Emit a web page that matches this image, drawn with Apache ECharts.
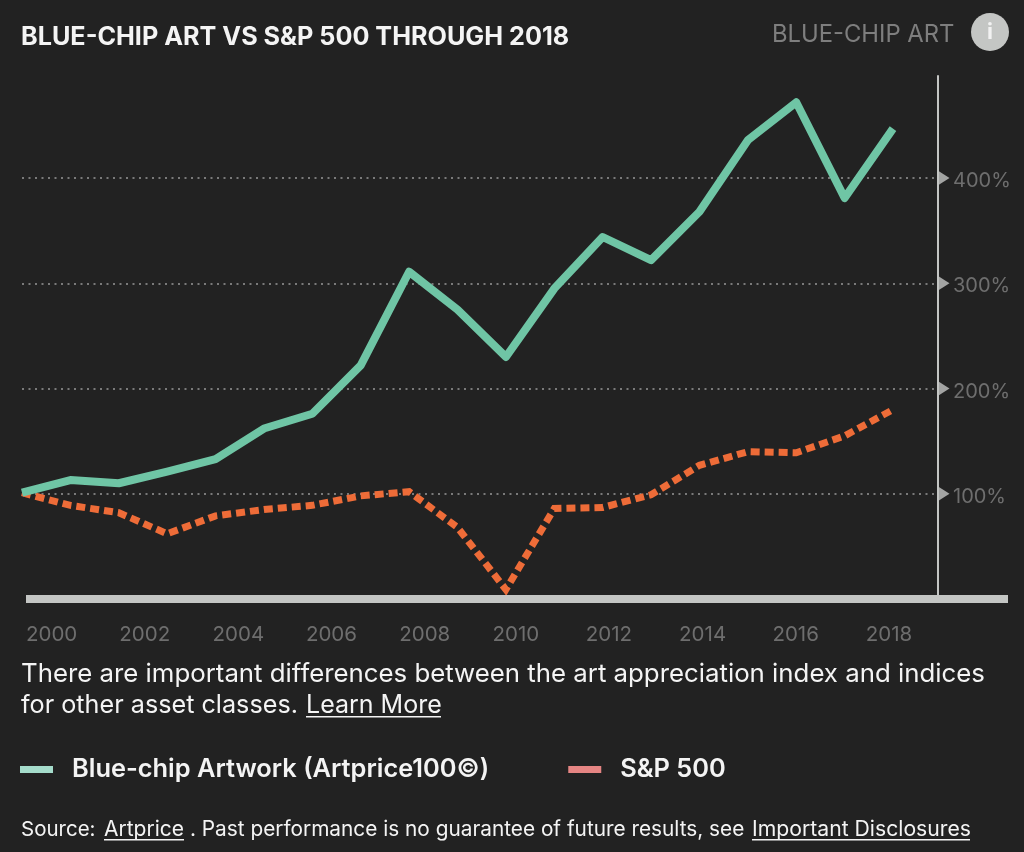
<!DOCTYPE html>
<html>
<head>
<meta charset="utf-8">
<title>Blue-chip art vs S&P 500</title>
<script src="https://cdn.jsdelivr.net/npm/echarts@6/dist/echarts.min.js"></script>
<style>
  html, body { margin: 0; padding: 0; background: #222222; }
  #chart { width: 1024px; height: 852px; }
</style>
</head>
<body>
<div id="chart"></div>
<script>
// data
const years = [2000, 2001, 2002, 2003, 2004, 2005, 2006, 2007, 2008, 2009, 2010, 2011, 2012, 2013, 2014, 2015, 2016, 2017, 2018];
const artValues = [101, 113, 110, 121, 133, 162, 176, 222, 311, 275, 230, 295, 344, 322, 368, 436, 472, 381, 447];
const spxValues = [101, 89, 82, 62, 79, 85, 89, 98, 102, 68, 9, 86, 87, 99, 127, 140, 139, 155, 180];
const yearLabels = [2000, 2002, 2004, 2006, 2008, 2010, 2012, 2014, 2016, 2018];
const percentTicks = [100, 200, 300, 400];
const artName = 'Blue-chip Artwork (Artprice100©)';
const spxName = 'S&P 500';

const FONT = 'Inter, "Noto Sans", sans-serif';
const MINT = '#6fc5a5';
const ORANGE = '#ee6c38';
const LIGHT = '#c4c6c4';
const WHITE = '#f4f4f4';

const xEnd = 2018.93;

// text and its underline
function label(x, y, text, fontSize, color, fontWeight) {
  return {
    type: 'text', x: x, y: y,
    style: { text: text, fontFamily: FONT, fontSize: fontSize, fill: color, fontWeight: fontWeight || 400, verticalAlign: 'middle' }
  };
}
function underline(x1, x2, y) {
  return { type: 'rect', shape: { x: x1, y: y, width: x2 - x1, height: 1.5 }, style: { fill: WHITE } };
}

const chart = echarts.init(document.getElementById('chart'));
chart.setOption({
  animation: false,
  backgroundColor: '#222222',
  textStyle: { fontFamily: FONT },
  grid: [
    { left: 22, top: 76, width: 916, height: 523 },
    { left: 26, top: 598, width: 982, height: 1 }
  ],
  xAxis: [{
    gridIndex: 0, type: 'value', min: 2000, max: xEnd, show: false, splitLine: { show: false }
  }, {
    gridIndex: 1, type: 'value', min: 2000, max: 2021.05, interval: 2,
    axisLine: { show: true, onZero: false, lineStyle: { color: LIGHT, width: 8, cap: 'butt' } },
    axisTick: { show: false },
    splitLine: { show: false },
    z: 5,
    axisLabel: {
      customValues: yearLabels,
      formatter: v => String(v),
      align: 'left', margin: 25,
      color: '#6e6e6e', fontSize: 20.5, fontFamily: FONT
    }
  }],
  yAxis: [{
    gridIndex: 0, type: 'value', position: 'right', min: 0, max: 497, interval: 100,
    axisLine: { show: true, lineStyle: { color: LIGHT, width: 2 } },
    axisTick: { show: false },
    axisLabel: {
      margin: 15, color: '#6e6e6e', fontSize: 20, fontFamily: FONT,
      showMinLabel: false, showMaxLabel: false,
      verticalAlign: 'top', lineHeight: 6,
      formatter: v => v + '%'
    },
    splitLine: {
      show: true, showMinLine: false, showMaxLine: false,
      lineStyle: { color: '#7a7a7a', width: 2, type: [2, 4.5] }
    }
  }, {
    gridIndex: 1, type: 'value', show: false
  }],
  legend: {
    left: 15, top: 752, itemWidth: 33, itemHeight: 7, itemGap: 79,
    textStyle: { color: WHITE, fontSize: 25.4, fontWeight: 600, fontFamily: FONT, padding: [0, 0, 0, 14] },
    data: [
      { name: artName, icon: 'rect', itemStyle: { color: '#a5dccb' } },
      { name: spxName, icon: 'rect', itemStyle: { color: '#e58583' } }
    ]
  },
  series: [{
    name: artName, type: 'line', xAxisIndex: 0, yAxisIndex: 0,
    data: years.map((y, i) => [y, artValues[i]]),
    showSymbol: false, symbol: 'none', clip: false, z: 3,
    lineStyle: { color: MINT, width: 8, cap: 'butt', join: 'round' }
  }, {
    name: spxName, type: 'line', xAxisIndex: 0, yAxisIndex: 0,
    data: years.map((y, i) => [y, spxValues[i]]),
    showSymbol: false, symbol: 'none', clip: false, z: 2,
    lineStyle: { color: ORANGE, width: 7, type: [9, 5], cap: 'butt', join: 'miter' }
  }, {
    // the little arrow ticks on the right axis
    name: 'ticks', type: 'scatter', xAxisIndex: 0, yAxisIndex: 0,
    data: percentTicks.map(t => [xEnd, t]),
    symbol: 'triangle', symbolSize: [14, 11], symbolRotate: -90, symbolOffset: [6, 0],
    itemStyle: { color: LIGHT }, clip: false, silent: true
  }],
  graphic: [
    label(21, 37, 'BLUE-CHIP ART VS S&P 500 THROUGH 2018', 25.2, WHITE, 700),
    label(772, 35, 'BLUE-CHIP ART', 23.8, '#7e7e7e'),
    { type: 'circle', shape: { cx: 990, cy: 32, r: 19 }, style: { fill: LIGHT } },
    { type: 'text', x: 990, y: 32, style: { text: 'i', fontFamily: FONT, fontSize: 22, fontWeight: 700, fill: '#f2f2f2', align: 'center', verticalAlign: 'middle' } },
    label(21, 674, 'There are important differences between the art appreciation index and indices', 25.8, WHITE),
    label(21, 705, 'for other asset classes.', 25.2, WHITE),
    label(306, 705, 'Learn More', 25, WHITE),
    underline(306, 441, 716),
    label(21, 830, 'Source:', 20.5, WHITE),
    label(104, 830, 'Artprice', 21, WHITE),
    underline(104, 184, 839),
    label(190, 830, '. Past performance is no guarantee of future results, see', 20.8, WHITE),
    label(752, 830, 'Important Disclosures', 21.2, WHITE),
    underline(752, 970, 839)
  ]
});
</script>
</body>
</html>
